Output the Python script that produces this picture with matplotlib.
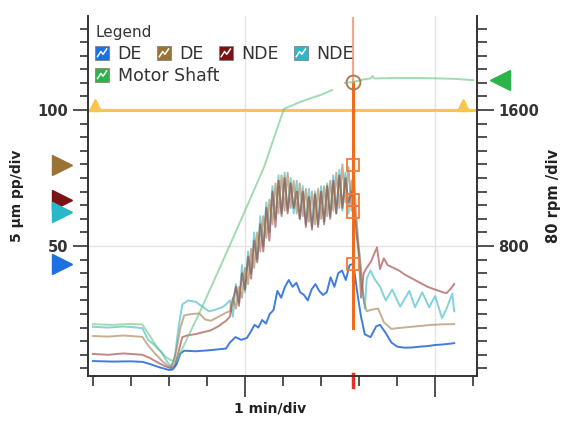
import numpy as np
import matplotlib
matplotlib.use("Agg")
import matplotlib.pyplot as plt
import matplotlib.transforms as mtransforms
from matplotlib.ticker import MultipleLocator, FixedLocator, NullFormatter
from matplotlib.legend_handler import HandlerBase
from matplotlib.patches import Rectangle
from matplotlib.lines import Line2D

# ---- data: time in minutes, vibration in um pp, motor speed in rpm ----
burst_t = [4.60, 4.68, 4.76, 4.84, 4.92, 5.00, 5.08, 5.16, 5.24, 5.32, 5.40,
           5.48, 5.56, 5.64, 5.72, 5.80, 5.88, 5.96, 6.04, 6.12, 6.20, 6.28,
           6.36, 6.44, 6.52, 6.60, 6.68, 6.76, 6.84, 6.92, 7.00, 7.08, 7.16,
           7.24, 7.32, 7.40, 7.48, 7.56, 7.64, 7.72, 7.80]

de_blue_t = [1.0, 1.5, 2.0, 2.3, 2.5, 2.7, 2.9, 3.0, 3.1, 3.2, 3.3, 3.4, 3.7,
             4.0, 4.3, 4.5, 4.6, 4.75, 4.9, 5.05, 5.15, 5.25, 5.35, 5.45, 5.55,
             5.65, 5.75, 5.85, 5.95, 6.05, 6.15, 6.25, 6.35, 6.45, 6.55, 6.65,
             6.75, 6.85, 6.95, 7.05, 7.15, 7.25, 7.35, 7.45, 7.55, 7.65, 7.75,
             7.85, 7.95, 8.05, 8.15, 8.3, 8.45, 8.55, 8.7, 8.85, 9.0, 9.2, 9.4,
             9.6, 9.8, 10.0, 10.2, 10.4, 10.5]
de_blue_v = [7.7, 7.5, 7.6, 7.4, 6.6, 5.6, 4.8, 4.4, 4.6, 6.5, 10.5, 11.5, 11.3,
             11.6, 12.0, 12.3, 14.5, 16.5, 15.5, 16.2, 18.5, 21.0, 20.0, 22.8,
             21.5, 25.0, 26.5, 33.5, 31.0, 35.0, 37.5, 35.0, 36.5, 33.0, 32.0,
             30.0, 34.0, 36.0, 33.5, 32.0, 33.0, 38.5, 35.0, 40.0, 41.0, 37.5,
             43.0, 43.4, 33.0, 24.0, 17.5, 16.5, 20.5, 21.0, 18.0, 14.5, 13.0,
             12.6, 12.7, 13.0, 13.2, 13.6, 13.8, 14.1, 14.3]

de_tan_pre_t = [1.0, 1.4, 1.8, 2.1, 2.3, 2.45, 2.6, 2.8, 3.0, 3.1, 3.2, 3.3,
                3.4, 3.6, 3.8, 3.95, 4.1, 4.3, 4.5]
de_tan_pre_v = [16.9, 16.7, 17.1, 16.8, 16.6, 13.5, 11.0, 8.0, 5.5, 6.5, 12.0,
                20.0, 24.5, 25.0, 25.2, 23.0, 22.5, 24.0, 25.5]
de_tan_burst_v = [26, 31, 27, 35, 31, 42, 36, 49, 42, 55, 48, 61, 53, 67, 58,
                  73, 62, 76, 63, 77, 64, 74, 62, 73, 61, 71, 59, 70, 58, 71,
                  60, 72, 61, 74, 63, 77, 64, 80, 66, 79, 63]
de_tan_post_t = [7.85, 7.92, 8.0, 8.06, 8.12, 8.2, 8.3, 8.5, 8.65, 8.85, 9.0,
                 9.3, 9.6, 9.9, 10.2, 10.5]
de_tan_post_v = [79.8, 62.0, 48.0, 40.0, 30.0, 26.0, 26.5, 27.0, 22.0, 19.5,
                 19.8, 20.2, 20.6, 21.0, 21.2, 21.3]

nde_red_pre_t = [1.0, 1.4, 1.8, 2.1, 2.3, 2.5, 2.7, 2.9, 3.05, 3.15, 3.25,
                 3.35, 3.5, 3.7, 3.9, 4.1, 4.3, 4.5]
nde_red_pre_v = [10.3, 10.0, 10.5, 10.2, 10.0, 8.8, 7.2, 5.8, 5.0, 6.0, 11.0,
                 16.5, 17.2, 17.6, 18.3, 19.0, 20.5, 22.5]
nde_red_burst_v = [24, 30, 35, 28, 40, 34, 46, 38, 52, 44, 58, 48, 64, 52, 70,
                   57, 74, 61, 75, 62, 73, 64, 70, 60, 70, 57, 68, 56, 69, 57,
                   70, 58, 72, 60, 74, 62, 76, 64, 75, 66, 70]
nde_red_post_t = [7.85, 7.92, 8.0, 8.05, 8.12, 8.2, 8.3, 8.47, 8.55, 8.65,
                  8.75, 8.9, 9.05, 9.2, 9.4, 9.6, 9.8, 10.0, 10.2, 10.3, 10.42,
                  10.5]
nde_red_post_v = [67.0, 58.0, 45.0, 31.0, 40.0, 42.0, 44.0, 49.5, 41.5, 45.5,
                  43.0, 42.0, 41.0, 39.5, 38.0, 36.5, 35.0, 34.0, 33.0, 32.7,
                  34.5, 36.0]

nde_cyan_pre_t = [1.0, 1.4, 1.8, 2.1, 2.3, 2.45, 2.6, 2.8, 2.95, 3.05, 3.15,
                  3.25, 3.35, 3.5, 3.7, 3.9, 4.05, 4.2, 4.4, 4.5]
nde_cyan_pre_v = [20.3, 20.0, 20.4, 20.1, 19.8, 15.5, 13.8, 11.0, 7.5, 5.5, 9.0,
                  20.0, 28.5, 30.0, 29.5, 27.5, 26.0, 26.5, 27.5, 28.5]
nde_cyan_burst_v = [30, 24, 36, 29, 43, 33, 48, 40, 55, 45, 61, 50, 66, 55, 72,
                    60, 76, 62, 77, 63, 75, 62, 74, 60, 72, 58, 71, 57, 70, 58,
                    72, 59, 73, 61, 76, 62, 78, 63, 77, 62, 74]
nde_cyan_post_t = [7.85, 7.92, 8.0, 8.08, 8.15, 8.2, 8.3, 8.4, 8.55, 8.7, 8.87,
                   9.08, 9.32, 9.47, 9.66, 9.84, 10.0, 10.18, 10.3, 10.45, 10.5]
nde_cyan_post_v = [62.5, 55.0, 48.0, 35.0, 27.0, 38.0, 41.0, 38.0, 35.0, 30.0,
                   34.0, 27.7, 33.5, 27.5, 33.0, 27.5, 31.6, 23.5, 27.0, 32.5,
                   26.0]

motor_t = [1.0, 1.5, 2.0, 2.3, 2.5, 2.7, 2.9, 3.05, 3.2, 3.82, 4.4, 5.0, 5.5,
           5.92, 6.03, 6.5, 7.0, 7.29, 7.45, 7.63, 7.85, 8.1, 8.3, 8.35, 8.4,
           9.0, 9.5, 10.0, 10.5, 11.0]
motor_rpm = [340, 336, 342, 338, 270, 200, 150, 128, 125, 416, 704, 1008, 1265,
             1541, 1608, 1652, 1690, 1718, np.nan, 1760, 1765, 1780, 1786, 1800,
             1786, 1789, 1789, 1787, 1784, 1776]

cursor_t = 7.85
cursor_vals = [79.8, 67.0, 62.5, 43.4]   # tan DE, red NDE, cyan NDE, blue DE
cursor_rpm = 1765
motor_flag_rpm = 1776
alarm_level = 100

legend_names = ["DE", "DE", "NDE", "NDE", "Motor Shaft"]
legend_colors = ["#1e6fe0", "#9a7436", "#7a1414", "#28b8c8", "#2db34a"]
line_colors = ["#1f66d9", "#a07a4c", "#8e2424", "#2fb7c6", "#62c47a"]


class ZigHandler(HandlerBase):
    def create_artists(self, legend, orig_handle, xdescent, ydescent,
                       width, height, fontsize, trans):
        s = width
        x0 = -xdescent
        y0 = -ydescent + (height - s) / 2
        box = Rectangle((x0, y0), s, s, facecolor=orig_handle.get_color(),
                        edgecolor="#777777", lw=0.5, transform=trans)
        zx = [x0 + s * f for f in (0.18, 0.42, 0.58, 0.84)]
        zy = [y0 + s * f for f in (0.25, 0.62, 0.42, 0.80)]
        zig = Line2D(zx, zy, color="white", lw=1.1, transform=trans)
        return [box, zig]


fig = plt.figure(figsize=(5.64, 4.22), dpi=100)
ax = fig.add_axes([88 / 564, 46 / 422, 389 / 564, 360 / 422])
ax2 = ax.twinx()

ylo, yhi = 2.2, 134.6
ax.set_xlim(0.87, 11.1)
ax.set_ylim(ylo, yhi)
ax2.set_ylim(ylo * 16, yhi * 16)

# grid + alarm level
ax.grid(True, which="major", color="#e4e4e4", lw=1.0)
ax.set_axisbelow(True)
ax.axhline(alarm_level, color="#f7c548", lw=2.2, zorder=2)

# vibration traces
tan_t = de_tan_pre_t + burst_t + de_tan_post_t
tan_v = de_tan_pre_v + de_tan_burst_v + de_tan_post_v
red_t = nde_red_pre_t + burst_t + nde_red_post_t
red_v = nde_red_pre_v + nde_red_burst_v + nde_red_post_v
cyan_t = nde_cyan_pre_t + burst_t + nde_cyan_post_t
cyan_v = nde_cyan_pre_v + nde_cyan_burst_v + nde_cyan_post_v

ax.plot(cyan_t, cyan_v, color=line_colors[3], lw=1.4, alpha=0.6, zorder=3)
ax.plot(red_t, red_v, color=line_colors[2], lw=1.4, alpha=0.55, zorder=3)
ax.plot(tan_t, tan_v, color=line_colors[1], lw=1.4, alpha=0.6, zorder=3)
ax.plot(de_blue_t, de_blue_v, color=line_colors[0], lw=1.4, alpha=0.85, zorder=4)
ax2.plot(motor_t, motor_rpm, color=line_colors[4], lw=1.4, alpha=0.6, zorder=3)

# cursor
ax.axvline(cursor_t, ymin=(20 - ylo) / (yhi - ylo), ymax=(110.3 - ylo) / (yhi - ylo),
           color="#f26a1b", lw=2.2, zorder=5)
ax.axvline(cursor_t, ymin=(110.3 - ylo) / (yhi - ylo), ymax=0.995,
           color="#f2a88a", lw=1.6, zorder=5)
ax.plot([cursor_t] * len(cursor_vals), cursor_vals, ls="none", marker="s", ms=8,
        mfc="none", mec="#f07a3a", mew=1.3, zorder=6)
ax2.plot([cursor_t], [cursor_rpm], ls="none", marker="o", ms=10, mfc="none",
         mec="#b07a50", mew=1.4, zorder=6)
bx = mtransforms.blended_transform_factory(ax.transData, ax.transAxes)
ax.plot([cursor_t, cursor_t], [0.005, -0.03], transform=bx, clip_on=False,
        color="#e8302a", lw=2.5, zorder=7)

# value flags outside the left axis
by = mtransforms.blended_transform_factory(ax.transAxes, ax.transData)
flag_colors = [legend_colors[1], legend_colors[2], legend_colors[3], legend_colors[0]]
for val, col in zip(cursor_vals, flag_colors):
    ax.plot([-0.068], [val], transform=by, marker=">", ms=15, color=col,
            clip_on=False, zorder=8)
by2 = mtransforms.blended_transform_factory(ax2.transAxes, ax2.transData)
ax2.plot([1.06], [motor_flag_rpm], transform=by2, marker="<", ms=15,
         color=legend_colors[4], clip_on=False, zorder=8)
ax.plot([0.017, 0.965], [alarm_level + 2, alarm_level + 2], transform=by,
        ls="none", marker="^", ms=9, color="#f7c548", clip_on=False, zorder=6)

# axes styling
for a in (ax, ax2):
    a.spines["top"].set_visible(False)
    for s in ("left", "right", "bottom"):
        a.spines[s].set_color("#333333")
        a.spines[s].set_linewidth(1.2)

ax.yaxis.set_major_locator(FixedLocator([50, 100]))
ax.yaxis.set_minor_locator(MultipleLocator(5))
ax.xaxis.set_major_locator(FixedLocator([5, 10]))
ax.xaxis.set_minor_locator(MultipleLocator(1))
ax.xaxis.set_major_formatter(NullFormatter())
ax2.yaxis.set_major_locator(FixedLocator([800, 1600]))
ax2.yaxis.set_minor_locator(MultipleLocator(80))

ax.tick_params(axis="y", which="major", length=11, width=1.2, color="#333333",
               labelsize=10.5, labelcolor="#333333")
ax.tick_params(axis="y", which="minor", length=6, width=1.2, color="#333333")
ax.tick_params(axis="x", which="major", length=15, width=1.2, color="#333333")
ax.tick_params(axis="x", which="minor", length=7, width=1.2, color="#333333")
ax2.tick_params(axis="y", which="major", length=12, width=1.2, color="#333333",
                labelsize=10.5, labelcolor="#333333")
ax2.tick_params(axis="y", which="minor", length=7, width=1.2, color="#333333")
for lab in ax.get_yticklabels() + ax2.get_yticklabels():
    lab.set_fontweight("bold")

ax.set_ylabel("5 µm pp/div", fontsize=10, fontweight="bold", color="#222222")
ax.yaxis.set_label_coords(-0.164, 0.5)
ax2.set_ylabel("80 rpm /div", fontsize=10.5, fontweight="bold", color="#222222")
ax2.yaxis.set_label_coords(1.177, 0.5)
ax.set_xlabel("1 min/div", fontsize=10, fontweight="bold", color="#222222")
ax.xaxis.set_label_coords(0.468, -0.072)

# legend: four channels on the first row, motor shaft below
leg_kw = dict(handler_map={Line2D: ZigHandler()}, loc="upper left",
              frameon=False, fontsize=12.5, handlelength=0.8, handleheight=0.8,
              handletextpad=0.5, columnspacing=0.86, borderpad=0,
              borderaxespad=0)
row1 = [Line2D([], [], color=legend_colors[i]) for i in range(4)]
leg1 = ax.legend(row1, legend_names[:4], bbox_to_anchor=(0.018, 0.975), ncol=4,
                 title="Legend", alignment="left", title_fontsize=11,
                 labelspacing=0.3, **leg_kw)
leg1.get_title().set_color("#333333")
for t in leg1.get_texts():
    t.set_color("#333333")
leg1.set_zorder(10)
ax.add_artist(leg1)
leg2 = ax.legend([Line2D([], [], color=legend_colors[4])], legend_names[4:],
                 bbox_to_anchor=(0.018, 0.858), **leg_kw)
for t in leg2.get_texts():
    t.set_color("#333333")
leg2.set_zorder(10)

fig.savefig("out.png", dpi=100)
